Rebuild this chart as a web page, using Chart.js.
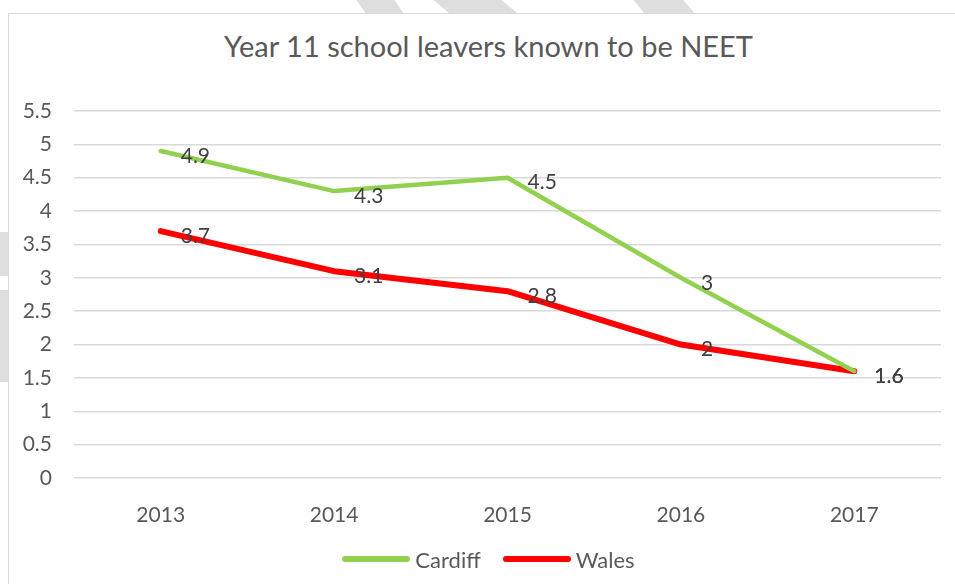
<!DOCTYPE html>
<html>
<head>
<meta charset="utf-8">
<script src="https://cdn.jsdelivr.net/npm/chart.js@4"></script>
<style>
	html, body { margin: 0; padding: 0; }
	body { width: 955px; height: 584px; overflow: hidden; position: relative; background: #fff; font-family: Lato, "Open Sans", sans-serif; }
	.stripe { position: absolute; background: #dedede; }
	.frame {
		position: absolute; left: 8px; top: 13px; width: 960px; height: 600px;
		background: #fff; border: 1.5px solid #d9d9d9;
	}
	.wrap { position: absolute; left: 0; top: 0; width: 955px; height: 584px; }
	.title {
		position: absolute; left: 0; top: 28px; width: 977px; text-align: center;
		font-size: 29px; line-height: 36px; color: #595959;
	}
	#legend {
		position: absolute; left: 0; top: 545px; width: 977px; height: 28px;
		display: flex; justify-content: center; align-items: center;
		list-style: none; margin: 0; padding: 0;
	}
	#legend li { display: flex; align-items: center; margin: 0 11px; font-size: 22px; color: #595959; }
	#legend .swatch { width: 68px; height: 6px; border-radius: 3px; margin-right: 5px; }
</style>
</head>
<body>
<div class="stripe" style="left:362px;top:0;width:38px;height:16px;transform:skewX(35deg)"></div>
<div class="stripe" style="left:443px;top:0;width:68px;height:16px;transform:skewX(50deg)"></div>
<div class="stripe" style="left:640px;top:0;width:50px;height:16px;transform:skewX(40deg)"></div>
<div class="stripe" style="left:0;top:232px;width:10px;height:44px;"></div>
<div class="stripe" style="left:0;top:290px;width:10px;height:92px;"></div>
<div class="frame"></div>
<div class="title">Year 11 school leavers known to be NEET</div>
<div class="wrap"><canvas id="chart"></canvas></div>
<ul id="legend"></ul>
<script>
//______ data

var years = ['2013', '2014', '2015', '2016', '2017'];
var cardiff = [4.9, 4.3, 4.5, 3, 1.6];
var wales = [3.7, 3.1, 2.8, 2, 1.6];
var yTicks = [0, 0.5, 1, 1.5, 2, 2.5, 3, 3.5, 4, 4.5, 5, 5.5];

var fontFamily = 'Lato, "Open Sans", sans-serif';

//______ values written next to each point, right of the line

var valueLabels = {
	id: 'valueLabels',
	afterDatasetsDraw: function(chart) {
		var ctx = chart.ctx;
		ctx.save();
		ctx.font = '21px ' + fontFamily;
		ctx.fillStyle = '#404040';
		ctx.textAlign = 'left';
		ctx.textBaseline = 'middle';

		chart.data.datasets.forEach((ds, i) => {
			chart.getDatasetMeta(i).data.forEach((pt, j) => {
				ctx.fillText(String(ds.data[j]), pt.x + 20, pt.y + 5);
			});
		});
		ctx.restore();
	}
};

function renderLegend(chart) {
	var container = document.getElementById('legend');
	container.innerHTML = '';

	chart.data.datasets.forEach(ds => {
		var item = document.createElement('li');

		var swatch = document.createElement('span');
		swatch.className = 'swatch';
		swatch.style.background = ds.borderColor;
		item.appendChild(swatch);

		var text = document.createElement('span');
		text.textContent = ds.label;
		item.appendChild(text);

		container.appendChild(item);
	});
}

var ctx = document.getElementById('chart');

var chart = new Chart(ctx, {
	type: 'line',
	data: {
		labels: years,
		datasets: [
			{
				label: 'Cardiff',
				data: cardiff,
				borderColor: '#92d050',
				backgroundColor: '#92d050',
				borderWidth: 4.5,
				pointRadius: 0,
				tension: 0,
				borderJoinStyle: 'round',
				borderCapStyle: 'round'
			},
			{
				label: 'Wales',
				data: wales,
				borderColor: '#ff0000',
				backgroundColor: '#ff0000',
				borderWidth: 6,
				pointRadius: 0,
				tension: 0,
				borderJoinStyle: 'round',
				borderCapStyle: 'round'
			}
		]
	},
	options: {
		responsive: true,
		maintainAspectRatio: false,
		animation: false,
		layout: { padding: { top: 111, right: 14, bottom: 45, left: 0 } },
		plugins: {
			title: { display: false },
			legend: { display: false },
			tooltip: { enabled: false }
		},
		scales: {
			x: {
				offset: true,
				grid: { display: false },
				border: { display: false },
				ticks: {
					color: '#595959',
					font: { family: fontFamily, size: 21 },
					padding: 17
				},
				afterFit: function(scale) { scale.height = 61; }
			},
			y: {
				min: 0,
				max: 5.5,
				afterBuildTicks: function(scale) {
					scale.ticks = yTicks.map(v => ({ value: v }));
				},
				grid: { color: '#d9d9d9', lineWidth: 1.5, drawTicks: false },
				border: { display: false },
				ticks: {
					color: '#595959',
					font: { family: fontFamily, size: 21 },
					padding: 22,
					callback: function(value) { return String(value); }
				},
				afterFit: function(scale) { scale.width = 74; }
			}
		}
	},
	plugins: [valueLabels]
});

renderLegend(chart);
</script>
</body>
</html>
